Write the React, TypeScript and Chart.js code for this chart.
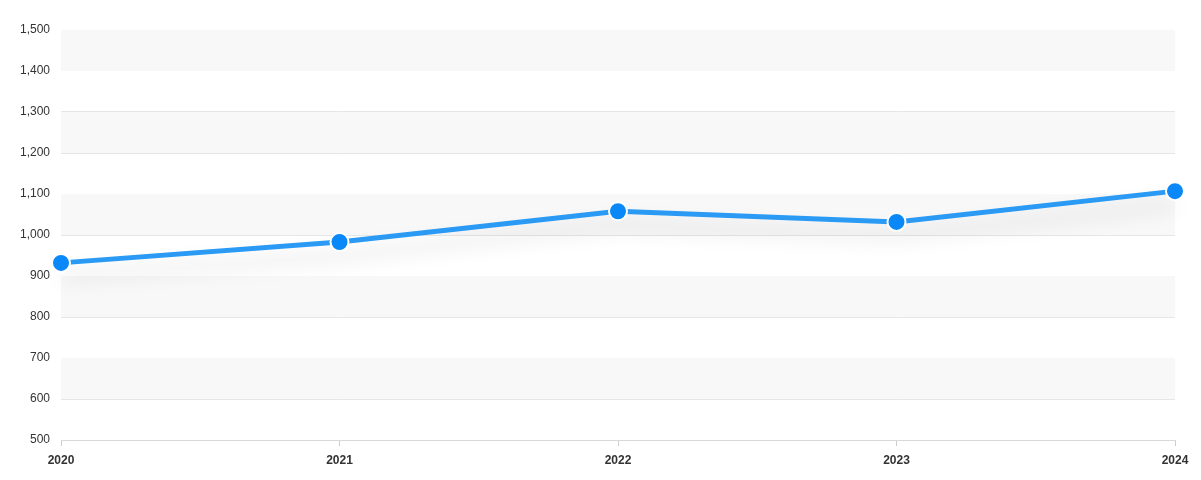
import React, { useEffect, useRef } from "react";
import { Chart, registerables } from "chart.js";

Chart.register(...registerables);

const categories = ["2020", "2021", "2022", "2023", "2024"];
const values = [932, 983, 1058, 1032, 1107];
const yMin = 500;
const yMax = 1500;
const yStep = 100;

const bandPlugin = {
  id: "bands",
  beforeDatasetsDraw(chart: any) {
    const { ctx, chartArea, scales } = chart;
    const y = scales.y;
    ctx.save();
    ctx.fillStyle = "#f8f8f8";
    for (let v = yMax; v > yMin; v -= 2 * yStep) {
      const top = y.getPixelForValue(v);
      const bot = y.getPixelForValue(v - yStep);
      ctx.fillRect(chartArea.left, top, chartArea.right - chartArea.left, bot - top);
    }
    ctx.restore();
  },
};

const shadowPlugin = {
  id: "lineShadow",
  beforeDatasetDraw(chart: any, args: any) {
    const meta = args.meta;
    const el = meta.dataset;
    if (el && !el.__shadowed) {
      const orig = el.draw;
      el.draw = function (ctx: CanvasRenderingContext2D, ...rest: any[]) {
        ctx.save();
        ctx.shadowColor = "rgba(0,0,0,0.16)";
        ctx.shadowBlur = 20;
        ctx.shadowOffsetY = 14;
        orig.call(this, ctx, ...rest);
        ctx.restore();
      };
      el.__shadowed = true;
    }
  },
};

export default function App() {
  const ref = useRef<HTMLCanvasElement | null>(null);
  useEffect(() => {
    if (!ref.current) return;
    const chart = new Chart(ref.current, {
      type: "line",
      data: {
        labels: categories,
        datasets: [
          {
            data: values,
            borderColor: "#2a9af4",
            borderWidth: 5,
            pointBackgroundColor: "#0a88f7",
            pointBorderColor: "#ffffff",
            pointBorderWidth: 2,
            pointRadius: 9,
            pointHoverRadius: 9,
            tension: 0,
            fill: false,
            clip: false as any,
          },
        ],
      },
      options: {
        animation: false,
        responsive: true,
        maintainAspectRatio: false,
        layout: { padding: { left: 0, right: 0, top: 22, bottom: 0 } },
        plugins: { legend: { display: false }, tooltip: { enabled: false } },
        scales: {
          x: {
            grid: { display: true, drawOnChartArea: false, drawTicks: true, tickLength: 6, color: "#cccccc" },
            border: { display: true, color: "#d8d8d8" },
            ticks: {
              color: "#333333",
              font: { family: "'Liberation Sans', Arial, sans-serif", size: 12, weight: "bold" },
              padding: 7,
              maxRotation: 0,
              autoSkip: false,
            },
            afterFit(scale: any) {
              scale.height = 32;
              scale.paddingRight = 18;
            },
          },
          y: {
            min: yMin,
            max: yMax,
            grid: { color: "#e6e6e6", drawTicks: false },
            border: { display: false },
            ticks: {
              stepSize: yStep,
              color: "#333333",
              font: { family: "'Liberation Sans', Arial, sans-serif", size: 12 },
              padding: 11,
              callback: (v: any) => Number(v).toLocaleString("en-US"),
            },
            afterFit(scale: any) {
              scale.width = 53;
            },
          },
        },
      },
      plugins: [bandPlugin, shadowPlugin],
    });
    return () => chart.destroy();
  }, []);
  return (
    <div style={{ width: 1185, height: 464, position: "relative" }}>
      <canvas ref={ref} />
    </div>
  );
}
